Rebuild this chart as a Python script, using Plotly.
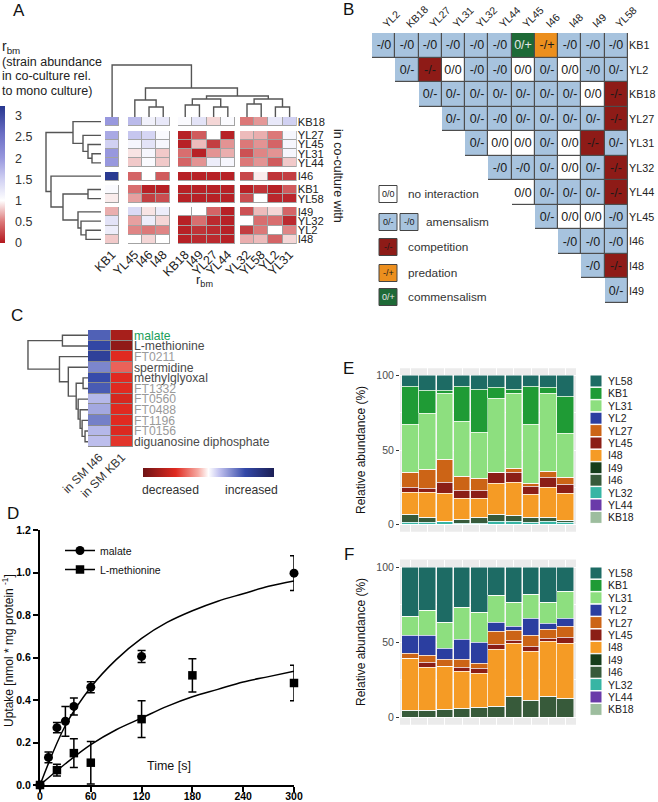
import plotly.graph_objects as go

# ============================ DATA ============================
# ---- Panel A: r_bm heatmap (rows: partner "in co-culture with", cols: strain)
a_cols = ["KB1", "YL45", "I46", "I48", "KB18", "I49", "YL27", "YL44", "YL32", "YL58", "YL2", "YL31"]
a_col_groups = [1, 3, 4, 4]
a_rows = ["KB18", "YL27", "YL45", "YL31", "YL44", "I46", "KB1", "YL58", "I49", "YL32", "YL2", "I48"]
a_row_groups = [1, 4, 1, 2, 4]
a_vals = [
    [2.0, 1.7, 1.15, 1.25, 1.05, 1.3, 0.85, 1.05, 0.5, 0.62, 1.25, 1.5],
    [1.85, 1.6, 1.45, 1.05, 0.05, 0.35, 1.0, 0.05, 0.75, 0.7, 0.5, 1.1],
    [1.5, 1.1, 1.3, 1.1, 0.05, 0.75, 0.2, 0.6, 0.5, 0.6, 0.4, 1.1],
    [2.0, 0.9, 1.1, 0.8, 0.45, 0.05, 0.6, 0.7, 0.3, 0.55, 0.6, 1.1],
    [2.0, 0.8, 1.05, 0.8, 0.4, 0.6, 1.2, 1.1, 0.5, 0.6, 0.35, 0.8],
    [3.2, 0.4, 1.0, 0.35, 0.05, 0.05, 0.05, 0.05, 0.25, 0.93, 0.15, 0.2],
    [1.05, 0.45, 0.05, 0.05, 0.05, 0.05, 0.05, 0.05, 0.05, 0.15, 0.05, 0.35],
    [0.93, 0.65, 0.2, 0.28, 0.05, 0.05, 0.05, 0.05, 0.28, 1.0, 0.08, 0.08],
    [0.7, 1.4, 0.9, 1.2, 1.0, 1.0, 0.4, 0.05, 0.3, 0.75, 0.85, 0.4],
    [1.3, 0.65, 1.2, 0.85, 0.05, 0.45, 0.1, 0.05, 1.0, 0.45, 0.45, 0.1],
    [1.2, 0.55, 0.5, 0.55, 0.05, 0.15, 0.1, 0.05, 0.2, 0.5, 1.0, 0.55],
    [0.8, 1.0, 0.85, 1.0, 0.05, 0.1, 0.1, 0.05, 0.7, 0.75, 0.4, 0.85],
]
a_cbar_ticks = [0, 0.5, 1, 1.5, 2, 2.5, 3]
# dendrogram merges: (left, right, height); "nK" = K-th merge
a_col_links = [("I46", "I48", 10), ("YL45", "n0", 17), ("KB18", "I49", 12), ("YL27", "YL44", 10),
               ("n2", "n3", 18), ("YL32", "YL58", 13), ("YL2", "YL31", 10), ("n5", "n6", 18),
               ("n4", "n7", 21), ("n1", "n8", 29), ("KB1", "n9", 52)]
a_row_links = [("YL31", "YL44", 9), ("YL45", "n0", 13), ("YL27", "n1", 18), ("KB18", "n2", 28),
               ("KB1", "YL58", 13), ("YL2", "I48", 15), ("YL32", "n5", 20), ("I49", "n6", 23),
               ("n4", "n7", 38), ("I46", "n8", 50), ("n3", "n9", 55)]

# ---- Panel B: interaction matrix (upper triangle)
b_rows = ["KB1", "YL2", "KB18", "YL27", "YL31", "YL32", "YL44", "YL45", "I46", "I48", "I49"]
b_cols = ["YL2", "KB18", "YL27", "YL31", "YL32", "YL44", "YL45", "I46", "I48", "I49", "YL58"]
b_cells = [
    ["-/0", "-/0", "-/0", "-/0", "-/0", "-/0", "0/+", "-/+", "-/0", "-/0", "-/0"],
    ["0/-", "-/-", "0/0", "-/0", "-/0", "0/0", "0/-", "0/0", "-/0", "0/-"],
    ["0/-", "0/-", "0/-", "0/-", "0/-", "0/-", "0/-", "0/0", "-/-"],
    ["0/-", "0/-", "-/0", "0/-", "0/-", "0/-", "0/-", "-/-"],
    ["0/-", "0/0", "0/0", "0/-", "0/0", "-/-", "0/-"],
    ["-/0", "-/0", "0/-", "0/0", "0/-", "-/-"],
    ["0/0", "0/-", "0/-", "0/-", "-/-"],
    ["0/-", "0/0", "0/0", "-/0"],
    ["-/0", "-/0", "-/0"],
    ["-/0", "-/-"],
    ["0/-"],
]
b_classes = ["no interaction", "amensalism", "competition", "predation", "commensalism"]
b_class_of = {"0/0": 0, "0/-": 1, "-/0": 1, "-/-": 2, "-/+": 3, "0/+": 4}
b_legend_symbols = [["0/0"], ["0/-", "-/0"], ["-/-"], ["-/+"], ["0/+"]]

# ---- Panel C: metabolite heatmap
c_metabolites = ["malate", "L-methionine", "FT0211", "spermidine", "methylglyoxal", "FT1332",
                 "FT0560", "FT0488", "FT1196", "FT0156", "diguanosine diphosphate"]
c_kind = ["highlight", "named", "unknown", "named", "named", "unknown",
          "unknown", "unknown", "unknown", "unknown", "named"]
c_conditions = ["in SM I46", "in SM KB1"]
c_sm_i46 = [0.48, 0.58, 0.64, 0.36, 0.55, 0.5, 0.2, 0.25, 0.38, 0.2, 0.18]
c_sm_kb1 = [-0.75, -0.85, -0.5, -0.35, -0.5, -0.5, -0.55, -0.5, -0.5, -0.52, -0.47]
c_links = [("malate", "L-methionine", 26), ("FT0156", "diguanosine diphosphate", 3), ("FT1196", "n1", 6),
           ("FT0488", "n2", 8), ("FT0560", "n3", 10), ("methylglyoxal", "FT1332", 5), ("n5", "n4", 12),
           ("spermidine", "n6", 20), ("FT0211", "n7", 29), ("n0", "n8", 61)]

# ---- Panel D: uptake
t_malate = [0, 10, 20, 30, 40, 60, 120, 300]
y_malate = [0.0, 0.13, 0.27, 0.30, 0.37, 0.46, 0.605, 0.997]
e_malate = [0.01, 0.025, 0.024, 0.07, 0.04, 0.026, 0.028, 0.082]
t_meth = [0, 20, 40, 60, 120, 180, 300]
y_meth = [0.0, 0.07, 0.15, 0.105, 0.31, 0.516, 0.48]
e_meth = [0.01, 0.028, 0.068, 0.1, 0.086, 0.078, 0.084]
fit_t = [0, 30, 60, 90, 120, 150, 180, 210, 240, 270, 300]
fit_malate = [0, 0.28, 0.46, 0.59, 0.69, 0.765, 0.82, 0.865, 0.90, 0.935, 0.96]
fit_meth = [0, 0.10, 0.19, 0.26, 0.315, 0.37, 0.415, 0.45, 0.485, 0.51, 0.535]
d_xticks = [0, 60, 120, 180, 240, 300]
d_yticks = [0, 0.2, 0.4, 0.6, 0.8, 1.0, 1.2]

# ---- Panels E / F: relative abundance (%), 10 replicate communities
samples = list(range(1, 11))
strains = ["YL58", "KB1", "YL31", "YL2", "YL27", "YL45", "I48", "I49", "I46", "YL32", "YL44", "KB18"]
e_data = {
    "YL58": [7, 10, 10, 7, 9, 8, 9, 7, 8, 14],
    "KB1": [26, 15, 2, 24, 29, 7, 3, 25.5, 4, 25],
    "YL31": [31.8, 38, 44, 37, 31, 49.7, 50, 40, 52.5, 29.2],
    "YL2": [0] * 10,
    "YL27": [10.2, 12.5, 16.0, 9.0, 8.0, 0.3, 3.0, 2.0, 3.7, 4.8],
    "YL45": [3.4, 2.9, 7.1, 5.3, 5.3, 7.5, 7.0, 5.0, 6.8, 6.0],
    "I48": [15.2, 17.1, 18.8, 14.1, 12.7, 20.5, 22.0, 16.0, 20.5, 18.0],
    "I49": [0] * 10,
    "I46": [5.4, 3.5, 0.3, 2.8, 4.3, 5.0, 4.0, 3.0, 2.7, 2.0],
    "YL32": [1.0, 1.0, 1.8, 0.8, 0.7, 2.0, 2.0, 1.5, 1.8, 1.0],
    "YL44": [0] * 10,
    "KB18": [0] * 10,
}
f_data = {
    "YL58": [33, 29, 37, 26.8, 30, 19, 23.4, 18, 23.4, 16],
    "KB1": [0] * 10,
    "YL31": [12.5, 16.7, 17, 21.6, 20.2, 17.6, 16.4, 16.3, 14.3, 18.3],
    "YL2": [12, 13.3, 7.6, 13.2, 13.8, 6.6, 2.2, 11.2, 3.9, 5.0],
    "YL27": [3.5, 4.6, 4.4, 5.0, 3.7, 8.6, 7.0, 7.5, 6.1, 7.3],
    "YL45": [0, 3.0, 0, 2.9, 3.3, 3.4, 1.7, 3.4, 1.8, 4.1],
    "I48": [34.5, 28.9, 29, 24.8, 22.2, 37.5, 35.7, 32.6, 36.6, 36.8],
    "I49": [0] * 10,
    "I46": [4.5, 4.5, 5, 5.7, 6.8, 7.3, 13.6, 11, 13.9, 12.5],
    "YL32": [0] * 10,
    "YL44": [0] * 10,
    "KB18": [0] * 10,
}
ef_yticks = [0, 50, 100]

# ============================ STYLE / LAYOUT ============================
W, H = 658, 802
FONT = "Liberation Sans, Arial, sans-serif"
TXT = "#222222"

def fx(x): return x / W
def fy(y): return 1 - y / H
def dom_x(a, b): return [a / W, b / W]
def dom_y(a, b): return [1 - b / H, 1 - a / H]

A_SCALE = [[0, "#b3171d"], [0.155, "#dc7878"], [0.31, "#ffffff"], [0.47, "#cfcff2"],
           [0.62, "#9898de"], [0.8, "#6a6ec4"], [1, "#27378f"]]
C_SCALE = [[0, "#6e1315"], [0.25, "#e02a20"], [0.42, "#f6aaa2"], [0.5, "#ffffff"],
           [0.58, "#c4c4f0"], [0.78, "#3348a8"], [1, "#1c1f55"]]
B_COLORS = ["#ffffff", "#a7c3de", "#8e1b17", "#ec8f1e", "#1e6a37"]
B_TEXT = ["#1a1a1a", "#1a1a1a", "#1a1a1a", "#1a1a1a", "#e8e8e8"]
STRAIN_COLORS = {"YL58": "#1d6b64", "KB1": "#1f9b35", "YL31": "#8ddf7f", "YL2": "#2b3ea0",
                 "YL27": "#cc6416", "YL45": "#8b1e16", "I48": "#f59b25", "I49": "#163d1b",
                 "I46": "#375a3a", "YL32": "#37b5a4", "YL44": "#6a3aa9", "KB18": "#9dbd9e"}
KIND_COLORS = {"highlight": "#1b9e5a", "named": "#4a4a4a", "unknown": "#9a9a9a"}


def brick_edges(groups, gaps):
    edges, real, pos, idx = [0.0], [], 0.0, 0
    for gi, g in enumerate(groups):
        for _ in range(g):
            pos += 1.0
            edges.append(pos)
            real.append(idx)
            idx += 1
        if gi < len(groups) - 1:
            pos += gaps[gi]
            edges.append(pos)
            idx += 1
    return edges, real


def dendro(leaves, links, leaf_pos):
    pos = {name: (leaf_pos[i], 0.0) for i, name in enumerate(leaves)}
    ps, hs = [], []
    for k, (a, b, h) in enumerate(links):
        (pa, ha), (pb, hb) = pos[a], pos[b]
        ps += [pa, pa, pb, pb, None]
        hs += [ha, h, h, hb, None]
        pos["n%d" % k] = ((pa + pb) / 2, h)
    return ps, hs


fig = go.Figure()
annotations, shapes = [], []

def note(text, x, y, size=12, color=TXT, xanchor="center", yanchor="middle", angle=0, **kw):
    annotations.append(dict(text=text, x=fx(x), y=fy(y), xref="paper", yref="paper",
                            xanchor=xanchor, yanchor=yanchor, showarrow=False, textangle=angle,
                            font=dict(family=FONT, size=size, color=color), **kw))

# ---------------- Panel A ----------------
ax_edges, ax_real = brick_edges(a_col_groups, [0.6, 0.55, 0.35])
ay_edges, ay_real = brick_edges(a_row_groups, [0.5, 0.45, 0.45, 0.45])
nxA, nyA = len(ax_edges) - 1, len(ay_edges) - 1
zA = [[None] * nxA for _ in range(nyA)]
zA_under = [[None] * nxA for _ in range(nyA)]
for i, ri in enumerate(ay_real):
    for j, cj in enumerate(ax_real):
        zA[ri][cj] = a_vals[i][j]
        zA_under[ri][cj] = 1
ax_centers = [(ax_edges[k] + ax_edges[k + 1]) / 2 for k in ax_real]
ay_centers = [(ay_edges[k] + ay_edges[k + 1]) / 2 for k in ay_real]

fig.add_trace(go.Heatmap(z=zA_under, x=ax_edges, y=ay_edges, colorscale=[[0, "#a3a3a3"], [1, "#a3a3a3"]],
                         showscale=False, hoverinfo="skip", xaxis="x", yaxis="y"))
fig.add_trace(go.Heatmap(
    z=zA, x=ax_edges, y=ay_edges, colorscale=A_SCALE, zmin=0, zmax=3.23, xgap=1, ygap=1,
    hoverinfo="skip", xaxis="x", yaxis="y",
    colorbar=dict(x=0, xanchor="left", y=fy(106), yanchor="top", lenmode="pixels", len=137,
                  thicknessmode="pixels", thickness=5, xpad=0, ypad=0, outlinewidth=0,
                  tickvals=a_cbar_ticks, ticks="outside", ticklen=8, tickcolor="rgba(0,0,0,0)",
                  tickfont=dict(family=FONT, size=12.5, color="#333"))))

px_, py_ = dendro(a_cols, a_col_links, ax_centers)
fig.add_trace(go.Scatter(x=px_, y=py_, mode="lines", line=dict(color="#555", width=1.4),
                         hoverinfo="skip", showlegend=False, xaxis="x2", yaxis="y2"))
rp, rh = dendro(a_rows, a_row_links, ay_centers)
fig.add_trace(go.Scatter(x=rh, y=rp, mode="lines", line=dict(color="#555", width=1.4),
                         hoverinfo="skip", showlegend=False, xaxis="x3", yaxis="y"))

note("r<sub>bm</sub>", 0, 47, size=14, xanchor="left")
note("(strain abundance", 0, 62, size=12.5, xanchor="left")
note("in co-culture rel.", 0, 76, size=12.5, xanchor="left")
note("to mono culture)", 0, 90.5, size=12.5, xanchor="left")
note("r<sub>bm</sub>", 205, 280, size=13)
note("in co-culture with", 338, 176, size=12.5, angle=90)

# ---------------- Panel B ----------------
nB = len(b_rows)
zB_under = [[None] * len(b_cols) for _ in range(nB)]
b_scale = []
for k, c in enumerate(B_COLORS):
    b_scale += [[k / 5, c], [(k + 1) / 5, c]]
text_colors = sorted(set(B_TEXT))
layers = {tc: ([[None] * len(b_cols) for _ in range(nB)], [[""] * len(b_cols) for _ in range(nB)])
          for tc in text_colors}
for i, row in enumerate(b_cells):
    for k, cell in enumerate(row):
        j = i + k
        cls = b_class_of[cell]
        zl, tl = layers[B_TEXT[cls]]
        zl[i][j] = cls
        tl[i][j] = cell
        zB_under[i][j] = 1
fig.add_trace(go.Heatmap(z=zB_under, colorscale=[[0, "#4d4d4d"], [1, "#4d4d4d"]], showscale=False,
                         hoverinfo="skip", xaxis="x4", yaxis="y4"))
for tc in text_colors:
    zl, tl = layers[tc]
    fig.add_trace(go.Heatmap(z=zl, text=tl, texttemplate="%{text}", colorscale=b_scale, zmin=-0.5, zmax=4.5,
                             xgap=1.2, ygap=1.2, showscale=False, hoverinfo="skip", xaxis="x4", yaxis="y4",
                             textfont=dict(family=FONT, size=12.5, color=tc)))

leg_rows_y = [194, 222, 247, 273, 297]
for k, syms in enumerate(b_legend_symbols):
    yc = leg_rows_y[k]
    for s_i, sym in enumerate(syms):
        x0 = 379 + s_i * 21
        shapes.append(dict(type="rect", xref="paper", yref="paper", x0=fx(x0), x1=fx(x0 + 18),
                           y0=fy(yc + 8.5), y1=fy(yc - 8.5), fillcolor=B_COLORS[k],
                           line=dict(color="#444", width=1)))
        note(sym, x0 + 9, yc, size=9, color=B_TEXT[k])
    note(b_classes[k], 406 if len(syms) == 1 else 424, yc, size=11.8, color="#333", xanchor="left")

# ---------------- Panel C ----------------
zC = [[a, b] for a, b in zip(c_sm_i46, c_sm_kb1)]
fig.add_trace(go.Heatmap(z=[[1, 1] for _ in zC], colorscale=[[0, "#8c8c8c"], [1, "#8c8c8c"]],
                         showscale=False, hoverinfo="skip", xaxis="x5", yaxis="y5"))
fig.add_trace(go.Heatmap(
    z=zC, colorscale=C_SCALE, zmin=-1, zmax=1, xgap=1, ygap=1, hoverinfo="skip", xaxis="x5", yaxis="y5",
    colorbar=dict(orientation="h", x=fx(208.5), xanchor="center", y=fy(468), yanchor="top",
                  lenmode="pixels", len=131, thicknessmode="pixels", thickness=9, xpad=0, ypad=0,
                  outlinewidth=0, showticklabels=False, ticks="")))
cp, ch = dendro(c_metabolites, c_links, list(range(len(c_metabolites))))
fig.add_trace(go.Scatter(x=ch, y=cp, mode="lines", line=dict(color="#555", width=1.4),
                         hoverinfo="skip", showlegend=False, xaxis="x6", yaxis="y5"))
c_ticktext = ["<span style='color:%s'>%s</span>" % (KIND_COLORS[k], m) for m, k in zip(c_metabolites, c_kind)]
note("decreased", 140, 490, size=12.2, color="#333", xanchor="left")
note("increased", 280, 490, size=12.2, color="#333", xanchor="right")

# ---------------- Panel D ----------------
fig.add_trace(go.Scatter(x=fit_t, y=fit_malate, mode="lines", line=dict(color="black", width=1.5, shape="spline"),
                         hoverinfo="skip", showlegend=False, xaxis="x7", yaxis="y7"))
fig.add_trace(go.Scatter(x=fit_t, y=fit_meth, mode="lines", line=dict(color="black", width=1.5, shape="spline"),
                         hoverinfo="skip", showlegend=False, xaxis="x7", yaxis="y7"))
fig.add_trace(go.Scatter(x=t_malate, y=y_malate, mode="markers", cliponaxis=False,
                         marker=dict(symbol="circle", size=9, color="black"),
                         error_y=dict(type="data", array=e_malate, color="black", thickness=1.5, width=4),
                         hoverinfo="skip", showlegend=False, xaxis="x7", yaxis="y7"))
fig.add_trace(go.Scatter(x=t_meth, y=y_meth, mode="markers", cliponaxis=False,
                         marker=dict(symbol="square", size=8.5, color="black"),
                         error_y=dict(type="data", array=e_meth, color="black", thickness=1.5, width=4),
                         hoverinfo="skip", showlegend=False, xaxis="x7", yaxis="y7"))
fig.add_trace(go.Scatter(x=[None], y=[None], mode="lines+markers", name="malate",
                         marker=dict(symbol="circle", size=9, color="black"), line=dict(color="black", width=1.5),
                         xaxis="x7", yaxis="y7", legend="legend"))
fig.add_trace(go.Scatter(x=[None], y=[None], mode="lines+markers", name="L-methionine",
                         marker=dict(symbol="square", size=8.5, color="black"), line=dict(color="black", width=1.5),
                         xaxis="x7", yaxis="y7", legend="legend"))
note("Time [s]", 169, 766, size=12.5, color="#111")
note("Uptake [nmol * mg protein <sup>-1</sup>]", 8, 651, size=12, color="#111", angle=-90)

# ---------------- Panels E / F ----------------
for data, xa, ya in [(e_data, "x8", "y8"), (f_data, "x9", "y9")]:
    for s in reversed(strains):
        fig.add_trace(go.Bar(x=samples, y=data[s], name=s, width=0.96,
                             marker=dict(color=STRAIN_COLORS[s], line=dict(color="white", width=0.5)),
                             hoverinfo="skip", showlegend=False, xaxis=xa, yaxis=ya))
    shapes.append(dict(type="rect", xref=xa + " domain", yref=ya + " domain", x0=0, x1=1, y0=0, y1=1,
                       fillcolor="#EBEBEB", line=dict(width=0), layer="below"))

for y0 in (381, 573):
    for i, s in enumerate(strains):
        yc = y0 + i * 12.4
        shapes.append(dict(type="rect", xref="paper", yref="paper", x0=fx(590), x1=fx(602),
                           y0=fy(yc + 6), y1=fy(yc - 6), fillcolor=STRAIN_COLORS[s],
                           line=dict(color="white", width=1)))
        note(s, 606, yc, size=10.5, color="#1a1a1a", xanchor="left")
note("Relative abundance (%)", 361, 450, size=12, color="#111", angle=-90)
note("Relative abundance (%)", 361, 642, size=12, color="#111", angle=-90)

# ---------------- Panel letters ----------------
for lab, x, y in [("A", 19, 11), ("B", 349, 9), ("C", 17, 315), ("D", 13, 513), ("E", 349, 368), ("F", 349, 554)]:
    note(lab, x, y, size=17, color="#111")

# ---------------- Axes ----------------
hid = dict(visible=False, showgrid=False, zeroline=False, fixedrange=True)
tf = lambda s, c="#222": dict(family=FONT, size=s, color=c)
ef_y = dict(range=[-5, 105], tickvals=ef_yticks, ticks="outside", ticklen=3, tickcolor="#333",
            tickfont=tf(10.5, "#4d4d4d"), showgrid=True, gridcolor="white", gridwidth=1, zeroline=False,
            minor=dict(tickvals=[25, 75], showgrid=True, gridcolor="white", gridwidth=0.5, ticks=""))
ef_x = dict(range=[0.4, 10.6], tickvals=samples, showticklabels=False, ticks="", showgrid=True,
            gridcolor="white", gridwidth=1, zeroline=False)
d_axis = dict(showline=True, linecolor="black", linewidth=2, ticks="outside", ticklen=5, tickwidth=2,
              tickcolor="black", showgrid=False, zeroline=False,
              tickfont=dict(family=FONT, size=10.5, color="black", weight="bold"))

fig.update_layout(
    width=W, height=H, autosize=False, margin=dict(l=0, r=0, t=0, b=0, autoexpand=False),
    paper_bgcolor="white", plot_bgcolor="rgba(0,0,0,0)", barmode="stack", bargap=0,
    font=dict(family=FONT, size=12, color=TXT),
    xaxis=dict(domain=dom_x(105, 296.7), range=[0, ax_edges[-1]], anchor="y", tickvals=ax_centers,
               ticktext=a_cols, tickangle=-45, ticks="", showgrid=False, zeroline=False, tickfont=tf(12.5)),
    yaxis=dict(domain=dom_y(117, 244), range=[ay_edges[-1], 0], anchor="x", side="right",
               tickvals=ay_centers, ticktext=a_rows, ticks="", showgrid=False, zeroline=False, tickfont=tf(11.2)),
    xaxis2=dict(domain=dom_x(105, 296.7), range=[0, ax_edges[-1]], anchor="y2", **hid),
    yaxis2=dict(domain=dom_y(63, 117), range=[0, 54], anchor="x2", **hid),
    xaxis3=dict(domain=dom_x(45, 101), range=[56, 0], anchor="y", **hid),
    xaxis4=dict(domain=dom_x(372, 628), range=[-0.5, 10.5], anchor="y4", side="top", tickvals=list(range(11)),
                ticktext=b_cols, tickangle=-45, ticks="", showgrid=False, zeroline=False, tickfont=tf(10.5)),
    yaxis4=dict(domain=dom_y(33, 303), range=[10.5, -0.5], anchor="x4", side="right", tickvals=list(range(11)),
                ticktext=b_rows, ticks="", showgrid=False, zeroline=False, tickfont=tf(10.8)),
    xaxis5=dict(domain=dom_x(88, 133), range=[-0.5, 1.5], anchor="y5", tickvals=[0, 1], ticktext=c_conditions,
                tickangle=-45, ticks="", showgrid=False, zeroline=False, tickfont=tf(12, "#333")),
    yaxis5=dict(domain=dom_y(330, 447), range=[10.5, -0.5], anchor="x5", side="right",
                tickvals=list(range(len(c_metabolites))), ticktext=c_ticktext, ticks="", showgrid=False,
                zeroline=False, tickfont=tf(12.2)),
    xaxis6=dict(domain=dom_x(27, 88), range=[62, 0], anchor="y5", **hid),
    xaxis7=dict(domain=dom_x(40, 294), range=[0, 300], anchor="y7", tickvals=d_xticks,
                ticklabelstandoff=-5, **d_axis),
    yaxis7=dict(domain=dom_y(530, 785), range=[0, 1.2], anchor="x7", tickvals=d_yticks, tickformat=".1f", **d_axis),
    xaxis8=dict(domain=dom_x(400, 576), anchor="y8", **ef_x),
    yaxis8=dict(domain=dom_y(368.3, 531.7), anchor="x8", **ef_y),
    xaxis9=dict(domain=dom_x(400, 576), anchor="y9", **ef_x),
    yaxis9=dict(domain=dom_y(559.5, 724.8), anchor="x9", **ef_y),
    legend=dict(x=fx(60), y=fy(536), xanchor="left", yanchor="top", bgcolor="rgba(0,0,0,0)",
                traceorder="normal", font=dict(family=FONT, size=10.5, color="#111"), tracegroupgap=0),
    annotations=annotations, shapes=shapes,
)

fig.write_html("out.html", config={"displayModeBar": False},
               post_script="document.body.style.margin='0';document.body.style.padding='0';")
